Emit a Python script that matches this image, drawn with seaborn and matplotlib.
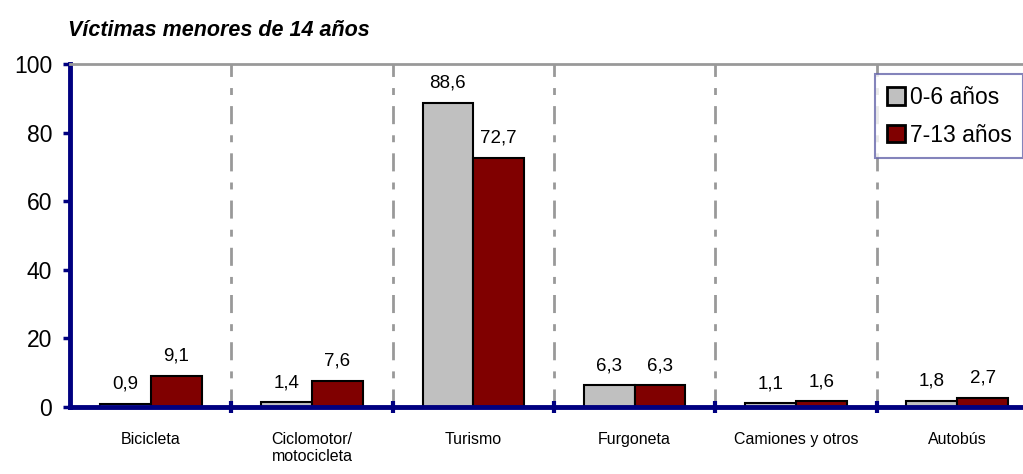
import pandas as pd
import matplotlib
matplotlib.use("Agg")
import matplotlib.pyplot as plt
import seaborn as sns

# datos del gráfico
categorias = ["Bicicleta", "Ciclomotor/\nmotocicleta", "Turismo", "Furgoneta",
              "Camiones y otros", "Autobús"]
edad_0_6 = [0.9, 1.4, 88.6, 6.3, 1.1, 1.8]
edad_7_13 = [9.1, 7.6, 72.7, 6.3, 1.6, 2.7]
grupos = ["0-6 años", "7-13 años"]
colores = ["#C0C0C0", "#800000"]

df = pd.DataFrame({
    "categoria": categorias * 2,
    "grupo": [grupos[0]] * len(categorias) + [grupos[1]] * len(categorias),
    "valor": edad_0_6 + edad_7_13,
})

sns.set_style("white")
plt.rcParams["font.family"] = ["Liberation Sans", "DejaVu Sans"]
plt.rcParams["text.color"] = "black"
plt.rcParams["xtick.color"] = "black"
plt.rcParams["ytick.color"] = "black"

fig = plt.figure(figsize=(10.23, 4.74), dpi=100)
ax = fig.add_axes([0.0685, 0.1414, 0.946, 0.7236])

sns.barplot(data=df, x="categoria", y="valor", hue="grupo", palette=colores,
            order=categorias, hue_order=grupos, width=0.63, saturation=1,
            edgecolor="black", linewidth=1.5, ax=ax)

# etiquetas con coma decimal
for cont in ax.containers:
    ax.bar_label(cont, labels=[f"{v:.1f}".replace(".", ",") for v in cont.datavalues],
                 padding=8, fontsize=13.5)

ax.set_ylim(0, 100)
ax.set_xlim(-0.5, len(categorias) - 0.5)
ax.set_yticks(range(0, 101, 20))
ax.tick_params(axis="y", labelsize=16.5, length=5, width=2.5, color="#000080",
               labelcolor="black", direction="out", left=True, pad=8)
ax.tick_params(axis="x", labelsize=11.5, length=0, pad=18, labelcolor="black")

# separadores entre categorías
for b in range(1, len(categorias) + 1):
    ax.axvline(b - 0.5, color="#999999", linewidth=2, linestyle=(0, (6.5, 4, 2.5, 4)), zorder=0)
    ax.plot([b - 0.5], [0], marker="|", markersize=9, markeredgewidth=3,
            color="#000080", clip_on=False, zorder=5)

ax.set_xlabel("")
ax.set_ylabel("")

for s in ["left", "bottom"]:
    ax.spines[s].set_color("#000080")
    ax.spines[s].set_linewidth(3.5)
ax.spines["top"].set_color("#999999")
ax.spines["top"].set_linewidth(2)
ax.spines["right"].set_visible(False)

leg = ax.legend(loc="upper left", bbox_to_anchor=(0.832, 0.97), fontsize=16.5,
                frameon=True, fancybox=False, handlelength=0.8, handleheight=0.8,
                handletextpad=0.2, borderpad=0.5, labelspacing=0.65,
                borderaxespad=0)
leg.get_frame().set_edgecolor("#6666AA")
leg.get_frame().set_linewidth(1.5)
for h in leg.legend_handles:
    h.set_edgecolor("black")
    h.set_linewidth(2)

fig.text(0.0665, 0.935, "Víctimas menores de 14 años", fontsize=15.5,
         fontweight="bold", fontstyle="italic", ha="left", va="center")

plt.savefig("out.png", dpi=100)
